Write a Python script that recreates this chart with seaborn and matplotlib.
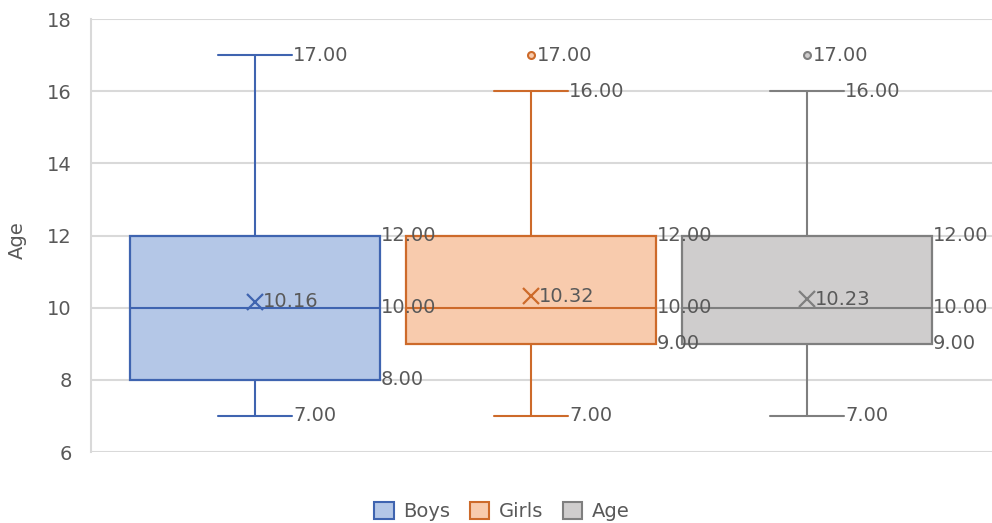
import numpy as np
import pandas as pd
import matplotlib
matplotlib.use("Agg")
import matplotlib.pyplot as plt
from matplotlib.patches import Patch
import seaborn as sns

# ---- data (five-number summaries) ----
series = ["Boys", "Girls", "Age"]
whisker_low = [7, 7, 7]
q1 = [8, 9, 9]
medians = [10, 10, 10]
q3 = [12, 12, 12]
whisker_high = [17, 16, 16]
outliers = [[], [17], [17]]
means = [10.16, 10.32, 10.23]
y_ticks = [6, 8, 10, 12, 14, 16, 18]

fills = ["#B4C7E7", "#F8CBAD", "#CFCDCD"]
edges = ["#3F64B0", "#CD6A2A", "#7F7F7F"]
text_color = "#595959"

# Build a small sample per series that reproduces its summary stats
rows = []
for s, lo, a, m, b, hi, out in zip(series, whisker_low, q1, medians, q3, whisker_high, outliers):
    for v in [lo, a, a, m, m, b, b, hi] + list(out):
        rows.append({"Series": s, "Age": v})
df = pd.DataFrame(rows)

sns.set_theme(style="white")
plt.rcParams["font.family"] = ["DejaVu Sans"]

fig = plt.figure(figsize=(9.92, 5.23), dpi=100)
ax = fig.add_axes([91 / 992, 1 - 452 / 523, 901 / 992, (452 - 19) / 523])

box_w = 0.906
cap_w = 0.268
palette = dict(zip(series, fills))

sns.boxplot(data=df, x="Series", y="Age", hue="Series", order=series, hue_order=series,
            palette=palette, width=box_w, whis=1.5, linewidth=1.5, legend=False,
            capwidths=cap_w, ax=ax, zorder=3)

for i, art in enumerate(ax.patches[:3]):
    art.set_edgecolor(edges[i])
    art.set_facecolor(fills[i])
    art.set_linewidth(1.6)
lines = ax.lines
per = len(lines) // 3
for i in range(3):
    for ln in lines[i * per:(i + 1) * per]:
        ln.set_color(edges[i])
        ln.set_linewidth(1.5)
        if ln.get_marker() not in (None, "None", ""):
            ln.set_marker("o")
            ln.set_markersize(5)
            ln.set_markerfacecolor(fills[i])
            ln.set_markeredgecolor(edges[i])
            ln.set_markeredgewidth(1.5)
            ln.set_linestyle("None")

# means
for i, m in enumerate(means):
    ax.plot(i, m, marker="x", markersize=11, markeredgewidth=1.6, color=edges[i],
            linestyle="None", zorder=5)

# data labels
fs = 14
pad = 0.004
for i in range(3):
    cx = i + cap_w / 2 + pad
    bx = i + box_w / 2 + pad
    ax.text(cx, whisker_high[i], f"{whisker_high[i]:.2f}", ha="left", va="center",
            fontsize=fs, color=text_color, zorder=6)
    ax.text(cx, whisker_low[i], f"{whisker_low[i]:.2f}", ha="left", va="center",
            fontsize=fs, color=text_color, zorder=6)
    for v in (q1[i], medians[i], q3[i]):
        ax.text(bx, v, f"{v:.2f}", ha="left", va="center",
                fontsize=fs, color=text_color, zorder=6)
    ax.text(i + 0.027, means[i], f"{means[i]:.2f}", ha="left", va="center",
            fontsize=fs, color=text_color, zorder=6)
    for v in outliers[i]:
        ax.text(i + 0.02, v, f"{v:.2f}", ha="left", va="center",
                fontsize=fs, color=text_color, zorder=6)

# axes styling
ax.set_ylim(6, 18)
ax.set_yticks(y_ticks)
ax.set_yticklabels([str(t) for t in y_ticks], fontsize=fs, color=text_color)
ax.set_xlim(-0.594, 2.67)
ax.set_xticks([])
ax.set_xlabel("")
ax.set_ylabel("Age", fontsize=fs, color=text_color)
ax.yaxis.set_label_coords(-0.071, 0.49)
ax.yaxis.grid(True, color="#D9D9D9", linewidth=1.5, zorder=0)
ax.set_axisbelow(True)
ax.tick_params(axis="y", length=0, pad=14)
for side in ("top", "right", "bottom"):
    ax.spines[side].set_visible(False)
ax.spines["left"].set_color("#D9D9D9")
ax.spines["left"].set_linewidth(1.5)

handles = [Patch(facecolor=f, edgecolor=e, linewidth=1.5, label=s)
           for s, f, e in zip(series, fills, edges)]
fig.legend(handles=handles, loc="lower center", bbox_to_anchor=(0.506, -0.03), ncol=3,
           frameon=False, fontsize=fs, handlelength=1.0, handleheight=1.0,
           columnspacing=1.0, handletextpad=0.5, labelcolor=text_color)

fig.savefig("out.png", dpi=100, facecolor="white")
